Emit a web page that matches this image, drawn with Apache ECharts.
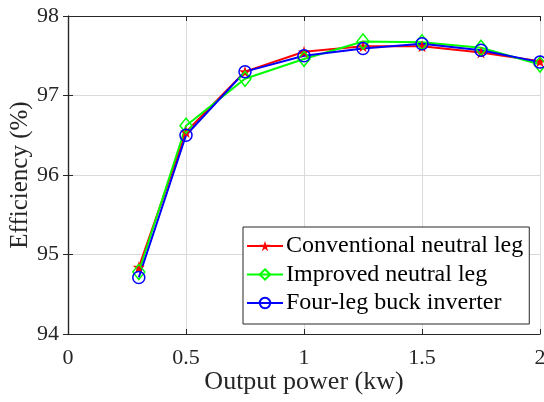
<!DOCTYPE html>
<html>
<head>
<meta charset="utf-8">
<script src="https://cdn.jsdelivr.net/npm/echarts@6/dist/echarts.min.js"></script>
<style>
html,body{margin:0;padding:0;background:#fff;}
#chart{width:544px;height:402px;}
</style>
</head>
<body>
<div id="chart"></div>
<script>
const outputPower = [0.3, 0.5, 0.75, 1, 1.25, 1.5, 1.75, 2];
const conventionalLeg = [94.84, 96.54, 97.30, 97.55, 97.62, 97.62, 97.54, 97.43];
const improvedLeg = [94.78, 96.62, 97.21, 97.46, 97.68, 97.67, 97.60, 97.39];
const fourLegBuck = [94.71, 96.50, 97.30, 97.50, 97.59, 97.65, 97.57, 97.42];
const seriesNames = ['Conventional neutral leg', 'Improved neutral leg', 'Four-leg buck inverter'];
const xTicks = [0, 0.5, 1, 1.5, 2];
const yTicks = [94, 95, 96, 97, 98];

const FONT = 'Liberation Serif';
const AXIS = '#262626';
const starPath = 'path://M50,0 L61,35 L98,35 L68,57 L79,91 L50,70 L21,91 L32,57 L2,35 L39,35 Z';

function pairs(xs, ys) { return xs.map((x, i) => [x, ys[i]]); }

const chart = echarts.init(document.getElementById('chart'), null, {renderer: 'canvas'});

const xBase = {
  type: 'value', min: xTicks[0], max: xTicks[xTicks.length - 1], interval: 0.5,
  axisLine: {show: true, lineStyle: {color: AXIS, width: 1.2}},
  axisTick: {show: true, inside: true, length: 5, lineStyle: {color: AXIS, width: 1}}
};
const yBase = {
  type: 'value', min: yTicks[0], max: yTicks[yTicks.length - 1], interval: 1,
  axisLine: {show: true, lineStyle: {color: AXIS, width: 1.2}},
  axisTick: {show: true, inside: true, length: 5, lineStyle: {color: AXIS, width: 1}}
};

const option = {
  backgroundColor: '#fff',
  animation: false,
  grid: {left: 68, right: 4, top: 16, bottom: 68, containLabel: false, outerBoundsMode: 'none'},
  xAxis: [
    Object.assign({}, xBase, {
      position: 'bottom',
      name: 'Output power (kw)', nameLocation: 'middle', nameGap: 35, nameMoveOverlap: false,
      nameTextStyle: {fontFamily: FONT, fontSize: 26, color: AXIS},
      axisLabel: {fontFamily: FONT, fontSize: 22, color: AXIS, margin: 13},
      splitLine: {show: true, lineStyle: {color: '#dadada', width: 1}}
    }),
    Object.assign({}, xBase, {
      position: 'top', axisLabel: {show: false}, splitLine: {show: false}
    })
  ],
  yAxis: [
    Object.assign({}, yBase, {
      position: 'left',
      name: 'Efficiency (%)', nameLocation: 'middle', nameGap: 35, nameRotate: 90, nameMoveOverlap: false,
      nameTextStyle: {fontFamily: FONT, fontSize: 25, color: AXIS},
      axisLabel: {fontFamily: FONT, fontSize: 22, color: AXIS, margin: 9, padding: [4, 0, 0, 0]},
      splitLine: {show: true, lineStyle: {color: '#dadada', width: 1}}
    }),
    Object.assign({}, yBase, {
      position: 'right', axisLabel: {show: false}, splitLine: {show: false}
    })
  ],
  legend: {
    orient: 'vertical', left: 243, top: 227,
    backgroundColor: '#fff', borderColor: AXIS, borderWidth: 1, borderRadius: 0,
    padding: [7, 6, 9, 3], itemGap: 4.5, itemWidth: 36, itemHeight: 13,
    textStyle: {fontFamily: FONT, fontSize: 24, color: '#000', padding: [0, 0, 0, -2]},
    data: seriesNames
  },
  series: [
    {
      name: seriesNames[0], type: 'line', data: pairs(outputPower, conventionalLeg),
      symbol: starPath, symbolSize: 12,
      lineStyle: {color: '#ff0000', width: 2},
      itemStyle: {color: '#ff0000', borderWidth: 0}
    },
    {
      name: seriesNames[1], type: 'line', data: pairs(outputPower, improvedLeg),
      symbol: 'diamond', symbolSize: [12, 15],
      lineStyle: {color: '#00ff00', width: 2},
      itemStyle: {color: 'rgba(0,0,0,0)', borderColor: '#00ff00', borderWidth: 1.5}
    },
    {
      name: seriesNames[2], type: 'line', data: pairs(outputPower, fourLegBuck),
      symbol: 'circle', symbolSize: 12,
      lineStyle: {color: '#0000ff', width: 2},
      itemStyle: {color: 'rgba(0,0,0,0)', borderColor: '#0000ff', borderWidth: 1.5}
    }
  ]
};
chart.setOption(option);
</script>
</body>
</html>
